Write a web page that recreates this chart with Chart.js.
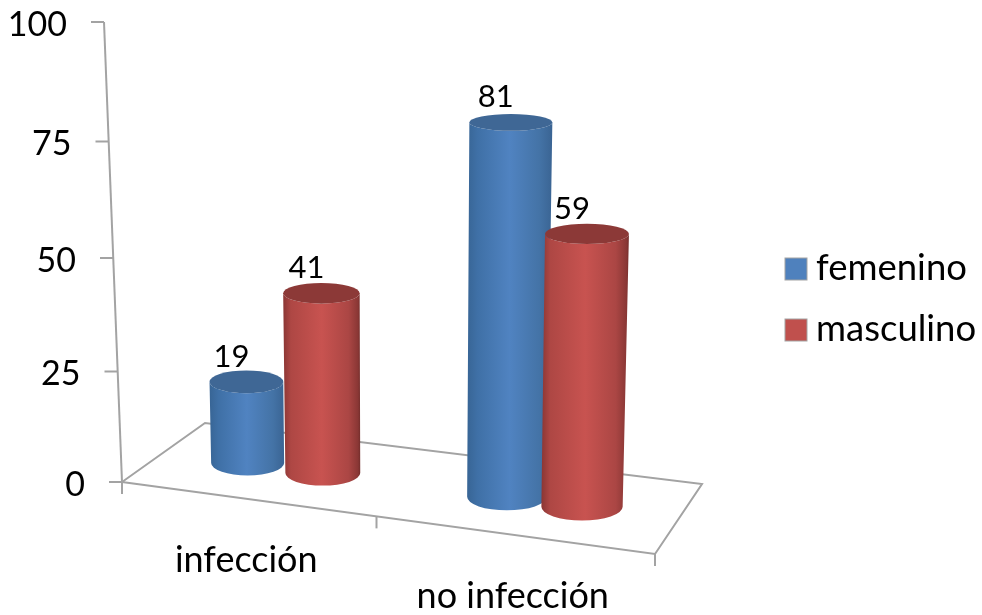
<!DOCTYPE html>
<html>
<head>
<meta charset="utf-8">
<script src="https://cdn.jsdelivr.net/npm/chart.js@4/dist/chart.umd.min.js"></script>
<style>
  html, body { margin: 0; padding: 0; background: #fff; }
  canvas { display: block; }
</style>
</head>
<body>
<canvas id="infeccionChart" width="982" height="615"></canvas>
<script>
const categories = ['infección', 'no infección'];
const femenino = [19, 81];
const masculino = [41, 59];
const yTicks = [0, 25, 50, 75, 100];

const AXIS = '#a3a3a3';
const FONT = 'Lato, "Open Sans", sans-serif';

// floor corners of the 3d box
const frontL = [122, 482], frontR = [655, 554], backR = [702, 484], backL = [205, 423];

function floorPoint(u, d) {
  const fx = frontL[0] + (frontR[0] - frontL[0]) * u, fy = frontL[1] + (frontR[1] - frontL[1]) * u;
  const bx = backL[0] + (backR[0] - backL[0]) * u, by = backL[1] + (backR[1] - backL[1]) * u;
  return [fx + (bx - fx) * d, fy + (by - fy) * d];
}

function line(ctx, x1, y1, x2, y2) {
  ctx.beginPath();
  ctx.moveTo(x1, y1);
  ctx.lineTo(x2, y2);
  ctx.stroke();
}

function drawCylinder(ctx, bx, by, rb, tx, ty, rt, ryB, ryT, c) {
  const grad = ctx.createLinearGradient(Math.min(bx - rb, tx - rt), 0, Math.max(bx + rb, tx + rt), 0);
  c.body.forEach(s => grad.addColorStop(s[0], s[1]));
  ctx.fillStyle = grad;
  ctx.beginPath();
  ctx.ellipse(bx, by, rb, ryB, 0, Math.PI, 0, true);
  ctx.lineTo(tx + rt, ty);
  ctx.ellipse(tx, ty, rt, ryT, 0, 0, Math.PI, false);
  ctx.closePath();
  ctx.fill();
  ctx.fillStyle = c.top;
  ctx.beginPath();
  ctx.ellipse(tx, ty, rt, ryT, 0, 0, Math.PI * 2);
  ctx.fill();
}

const shades = [
  { top: '#3f6795', body: [[0, '#386595'], [0.12, '#3f70a6'], [0.5, '#5083c1'], [0.85, '#4473a6'], [1, '#3a6493']] },
  { top: '#8c3937', body: [[0, '#8a3634'], [0.1, '#ae4744'], [0.5, '#c85350'], [0.85, '#ab4644'], [0.97, '#8a3735'], [1, '#732d2b']] }
];

const box3d = {
  id: 'box3d',
  beforeDatasetsDraw(chart) {
    const ctx = chart.ctx, y = chart.scales.y;
    const top = y.getPixelForValue(100), bottom = y.getPixelForValue(0);
    ctx.save();
    ctx.strokeStyle = AXIS;
    ctx.lineWidth = 2;

    ctx.beginPath();
    ctx.moveTo(frontL[0], frontL[1]);
    ctx.lineTo(frontR[0], frontR[1]);
    ctx.lineTo(backR[0], backR[1]);
    ctx.lineTo(backL[0], backL[1]);
    ctx.closePath();
    ctx.stroke();

    // value axis leans a little towards the top
    ctx.fillStyle = '#000';
    ctx.font = '34px ' + FONT;
    ctx.textAlign = 'right';
    ctx.textBaseline = 'middle';
    const axisAt = v => {
      const py = y.getPixelForValue(v);
      const t = (bottom - py) / (bottom - top);
      return [frontL[0] - 18 * t, py + 24 * t * (1 - t)];
    };
    line(ctx, axisAt(0)[0], axisAt(0)[1], axisAt(100)[0], axisAt(100)[1]);
    yTicks.forEach(v => {
      const p = axisAt(v);
      line(ctx, p[0] - 13, p[1], p[0], p[1]);
      ctx.fillText(String(v), p[0] - 37, p[1] + 3);
    });

    // category ticks and names along the front edge
    const x = chart.scales.x;
    const u = px => (px - x.left) / x.width;
    const bound = (x.getPixelForValue(0) + x.getPixelForValue(1)) / 2 - 12;
    [x.left, bound, x.right].forEach(px => {
      const p = floorPoint(u(px), 0);
      line(ctx, p[0], p[1], p[0], p[1] + 12);
    });
    ctx.font = '36px ' + FONT;
    ctx.textAlign = 'center';
    ctx.textBaseline = 'alphabetic';
    categories.forEach((name, i) => {
      const p = floorPoint(u(x.getPixelForValue(i)), 0);
      ctx.fillText(name, p[0] - 9, p[1] + 72);
    });
    ctx.restore();
  },
  // bars are replaced by cylinders below
  beforeDatasetDraw() {
    return false;
  },
  afterDatasetsDraw(chart) {
    const ctx = chart.ctx, x = chart.scales.x;
    const labels = [];
    ctx.save();
    chart.data.datasets.forEach((ds, i) => {
      chart.getDatasetMeta(i).data.forEach((bar, j) => {
        const value = ds.data[j];
        const p = floorPoint((bar.x - x.left) / x.width, 0.405);
        const bx = p[0], by = p[1] - 7;
        const h = (bar.base - bar.y) * Math.min(1.005, 0.93 + (bx - 249) * 0.0003);
        const lean = (bx - 400) * 0.0001 * h;
        const tx = bx + lean, ty = by - h;
        const rb = bar.width / 2 * (0.945 + (bx - 249) * 0.00032);
        const rt = rb * (1 + h * 0.00012);
        const ratio = v => 0.34 - 0.0017 * v;
        drawCylinder(ctx, bx, by, rb, tx, ty, rt, rb * ratio(0), rt * ratio(value), shades[i]);
        labels.push([value, tx - 15, ty - 15]);
      });
    });
    ctx.fillStyle = '#000';
    ctx.font = '31px ' + FONT;
    ctx.textAlign = 'center';
    ctx.textBaseline = 'alphabetic';
    labels.forEach(l => ctx.fillText(String(l[0]), l[1], l[2]));

    // legend, one swatch and name per dataset
    ctx.font = '36.5px ' + FONT;
    ctx.textAlign = 'left';
    chart.data.datasets.forEach((ds, i) => {
      const top = 258 + i * 61;
      ctx.fillStyle = ds.backgroundColor;
      ctx.fillRect(785, top, 22, 22);
      ctx.strokeStyle = AXIS;
      ctx.lineWidth = 1;
      ctx.strokeRect(785, top, 22, 22);
      ctx.fillStyle = '#000';
      ctx.fillText(ds.label, 816, top + 22);
    });
    ctx.restore();
  }
};

new Chart(document.getElementById('infeccionChart'), {
  type: 'bar',
  plugins: [box3d],
  data: {
    labels: categories,
    datasets: [
      { label: 'femenino', data: femenino, backgroundColor: '#4f81bd' },
      { label: 'masculino', data: masculino, backgroundColor: '#c0504d' }
    ]
  },
  options: {
    responsive: false,
    animation: false,
    layout: { padding: { left: 122, top: 22, bottom: 133, right: 327 } },
    datasets: { bar: { barPercentage: 1, categoryPercentage: 0.58 } },
    plugins: {
      tooltip: { enabled: false },
      legend: { display: false }
    },
    scales: {
      x: { display: false },
      y: { display: false, min: 0, max: 100 }
    }
  }
});
</script>
</body>
</html>
